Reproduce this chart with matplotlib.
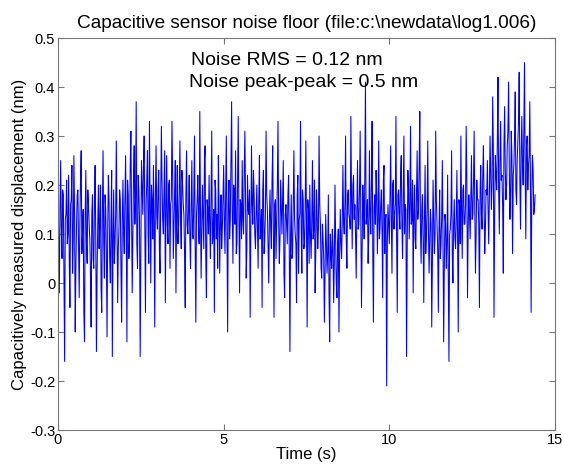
import numpy as np
import matplotlib.pyplot as plt

plt.rcParams['font.family'] = ['Liberation Sans', 'DejaVu Sans']

# displacement readings (nm) at t = 0, 0.04, 0.08, ... s
disp_0 = [0.20, -0.02, 0.25, 0.05, 0.18, -0.16, 0.14, 0.08, 0.22, -0.05, 0.17, 0.02, 0.26,
          -0.10, 0.12, 0.19, -0.03, 0.21, 0.06, 0.15, -0.12, 0.23, 0.04, 0.16, 0.09]
disp_1 = [-0.09, 0.18, 0.03, 0.24, -0.14, 0.12, 0.07, 0.20, -0.06, 0.27, 0.01, 0.15, -0.11,
          0.22, 0.05, 0.13, -0.15, 0.19, 0.08, 0.29, -0.04, 0.11, 0.17, -0.08, 0.21]
disp_2 = [0.06, 0.26, -0.12, 0.18, 0.09, 0.31, -0.02, 0.22, 0.12, 0.37, 0.03, 0.19, -0.15,
          0.25, 0.14, 0.30, -0.06, 0.21, 0.10, 0.33, 0.00, 0.17, 0.24, -0.09, 0.28]
disp_3 = [0.11, 0.23, 0.02, 0.32, 0.13, 0.19, -0.04, 0.26, 0.08, 0.21, 0.16, 0.33, 0.05,
          0.18, -0.02, 0.24, 0.12, 0.29, 0.07, 0.20, 0.14, -0.05, 0.27, 0.10, 0.22]
disp_4 = [0.03, 0.25, 0.09, 0.30, -0.08, 0.17, 0.12, 0.35, 0.01, 0.20, 0.07, 0.28, -0.03,
          0.15, 0.22, 0.05, 0.31, 0.10, -0.06, 0.19, 0.14, 0.26, 0.02, 0.18, 0.11]
disp_5 = [0.24, 0.06, 0.30, -0.10, 0.21, 0.13, 0.37, 0.04, 0.19, 0.27, 0.08, 0.34, -0.02,
          0.16, 0.25, 0.10, 0.31, 0.01, 0.22, 0.14, -0.07, 0.28, 0.12, 0.18, 0.07]
disp_6 = [0.20, 0.03, 0.26, 0.11, -0.05, 0.23, 0.09, 0.31, 0.15, 0.00, 0.19, 0.07, 0.28,
          -0.07, 0.17, 0.12, 0.33, 0.04, 0.21, 0.10, 0.25, -0.03, 0.16, 0.08, 0.22]
disp_7 = [-0.14, 0.18, 0.06, 0.27, 0.10, -0.04, 0.22, 0.13, 0.33, 0.02, 0.17, 0.08, 0.29,
          -0.09, 0.15, 0.20, 0.05, 0.25, 0.11, -0.02, 0.19, 0.07, 0.30, 0.12, 0.01]
disp_8 = [0.09, -0.08, 0.14, 0.02, 0.18, -0.12, 0.06, 0.11, -0.04, 0.20, 0.00, 0.08, -0.10,
          0.15, 0.05, 0.24, 0.10, 0.30, 0.03, 0.19, 0.13, 0.34, 0.07, 0.22, 0.16]
disp_9 = [0.01, 0.25, 0.12, 0.31, -0.05, 0.20, 0.09, 0.41, 0.14, 0.04, 0.27, 0.10, 0.33,
          -0.08, 0.18, 0.23, 0.06, 0.29, 0.11, 0.19, -0.03, 0.24, 0.13, -0.21, 0.16]
disp_10 = [0.08, 0.28, 0.02, 0.21, 0.14, 0.34, -0.06, 0.19, 0.11, 0.26, 0.05, 0.30, 0.16,
           -0.15, 0.23, 0.09, 0.32, 0.13, -0.02, 0.20, 0.07, 0.27, 0.15, 0.35, 0.04]
disp_11 = [0.18, -0.04, 0.24, 0.10, 0.29, 0.02, 0.15, -0.09, 0.21, 0.06, 0.31, 0.12, -0.06,
           0.19, 0.08, 0.25, -0.12, 0.14, 0.03, 0.22, -0.16, 0.11, 0.27, 0.00, 0.17]
disp_12 = [0.07, 0.23, -0.10, 0.16, 0.30, 0.05, 0.20, 0.12, 0.32, -0.03, 0.18, 0.09, 0.26,
           0.14, 0.31, 0.02, 0.21, 0.17, -0.05, 0.24, 0.11, 0.28, 0.06, 0.19, 0.25]
disp_13 = [0.08, 0.30, 0.15, 0.38, -0.07, 0.26, 0.19, 0.42, 0.10, 0.33, 0.22, 0.02, 0.36,
           0.17, 0.28, 0.41, 0.13, 0.31, 0.06, 0.24, 0.39, 0.16, 0.29, 0.43, 0.11]
disp_14 = [0.34, 0.20, 0.45, 0.09, 0.30, 0.24, 0.37, -0.06, 0.26, 0.14, 0.18]

# readings in between, at t = 0.02, 0.06, 0.10, ... s
mid_0 = [0.08, 0.15, 0.11, 0.19, 0.01, 0.13, 0.21, 0.10, 0.04, 0.16, 0.24, 0.09, 0.14,
         0.03, 0.18, 0.07, 0.12, 0.27, 0.10, -0.06, 0.14, 0.08, 0.19, 0.12, 0.02]
mid_1 = [0.14, 0.05, 0.16, 0.09, 0.02, 0.20, 0.12, -0.01, 0.15, 0.08, 0.18, 0.06, 0.11,
         0.17, 0.00, 0.23, 0.09, 0.04, 0.14, 0.12, 0.07, 0.19, 0.03, 0.13, 0.10]
mid_2 = [0.17, 0.12, 0.21, 0.05, 0.24, 0.14, 0.10, 0.28, 0.17, 0.08, 0.22, 0.13, 0.06,
         0.19, 0.24, 0.11, 0.16, 0.27, 0.04, 0.15, 0.20, 0.09, 0.13, 0.18, 0.14]
mid_3 = [0.19, 0.07, 0.16, 0.21, 0.10, 0.27, 0.14, 0.12, 0.20, 0.03, 0.17, 0.22, 0.11,
         0.25, 0.15, 0.08, 0.19, 0.13, 0.23, 0.16, 0.06, 0.18, 0.12, 0.15, 0.09]
mid_4 = [0.16, 0.10, 0.18, 0.07, 0.14, 0.22, 0.08, 0.15, 0.11, 0.13, 0.25, 0.05, 0.17,
         0.10, 0.12, 0.19, 0.08, 0.15, 0.21, 0.09, 0.03, 0.16, 0.12, 0.07, 0.17]
mid_5 = [0.13, 0.18, 0.11, 0.16, 0.09, 0.25, 0.15, 0.20, 0.12, 0.06, 0.21, 0.14, 0.17,
         0.09, 0.13, 0.22, 0.18, 0.07, 0.15, 0.19, 0.12, 0.16, 0.23, 0.10, 0.14]
mid_6 = [0.12, 0.17, 0.09, 0.15, 0.19, 0.06, 0.14, 0.18, 0.08, 0.13, 0.11, 0.21, 0.10,
         0.16, 0.05, 0.20, 0.13, 0.09, 0.15, 0.17, 0.02, 0.14, 0.12, 0.18, 0.07]
mid_7 = [0.10, 0.05, 0.16, 0.13, 0.08, 0.18, 0.02, 0.14, 0.11, 0.19, 0.07, 0.15, 0.12,
         0.17, 0.04, 0.10, 0.13, 0.09, 0.21, 0.06, 0.14, 0.11, 0.16, 0.03, 0.12]
mid_8 = [0.05, 0.02, 0.08, 0.06, -0.02, 0.10, 0.03, 0.07, 0.04, 0.09, -0.03, 0.11, 0.06,
         0.08, 0.13, 0.12, 0.16, 0.09, 0.18, 0.14, 0.11, 0.17, 0.20, 0.13, 0.10]
mid_9 = [0.15, 0.11, 0.19, 0.14, 0.08, 0.16, 0.22, 0.12, 0.17, 0.10, 0.14, 0.20, 0.07,
         0.15, 0.12, 0.18, 0.13, 0.09, 0.16, 0.11, 0.21, 0.06, 0.14, 0.08, 0.12]
mid_10 = [0.17, 0.13, 0.20, 0.11, 0.16, 0.09, 0.18, 0.14, 0.22, 0.12, 0.17, 0.10, 0.15,
          0.07, 0.19, 0.16, 0.12, 0.21, 0.14, 0.09, 0.18, 0.13, 0.24, 0.11, 0.15]
mid_11 = [0.09, 0.13, 0.06, 0.15, 0.11, 0.08, 0.12, 0.04, 0.14, 0.10, 0.17, 0.07, 0.11,
          0.05, 0.13, 0.09, 0.03, 0.12, 0.08, 0.01, 0.10, 0.14, 0.06, 0.12, 0.09]
mid_12 = [0.13, 0.10, 0.17, 0.08, 0.15, 0.19, 0.12, 0.16, 0.21, 0.11, 0.14, 0.18, 0.13,
          0.20, 0.15, 0.10, 0.17, 0.12, 0.19, 0.14, 0.22, 0.16, 0.11, 0.18, 0.15]
mid_13 = [0.18, 0.23, 0.20, 0.27, 0.14, 0.22, 0.29, 0.19, 0.25, 0.21, 0.16, 0.28, 0.23,
          0.20, 0.31, 0.24, 0.18, 0.26, 0.22, 0.30, 0.19, 0.25, 0.33, 0.21, 0.27]
mid_14 = [0.24, 0.31, 0.22, 0.28, 0.19, 0.26, 0.21, 0.17, 0.23, 0.15]

disp = (disp_0 + disp_1 + disp_2 + disp_3 + disp_4 + disp_5 + disp_6 + disp_7
        + disp_8 + disp_9 + disp_10 + disp_11 + disp_12 + disp_13 + disp_14)
mid = (mid_0 + mid_1 + mid_2 + mid_3 + mid_4 + mid_5 + mid_6 + mid_7
       + mid_8 + mid_9 + mid_10 + mid_11 + mid_12 + mid_13 + mid_14)
dt = 0.04

t_a = np.arange(len(disp)) * dt
t_b = np.arange(len(mid)) * dt + dt / 2
t = np.concatenate([t_a, t_b])
y = np.concatenate([disp, mid])
order = np.argsort(t)
t, y = t[order], y[order]

rms_text = 'Noise RMS = 0.12 nm'
pp_text = 'Noise peak-peak = 0.5 nm'

fig = plt.figure(figsize=(5.62, 4.70), dpi=100)
ax = fig.add_axes([0.1032, 0.0851, 0.8843, 0.834])
ax.plot(t, y, color='#0000ff', lw=0.75)

ax.set_xlim(0, 15)
ax.set_ylim(-0.3, 0.5)
ax.set_xticks([0, 5, 10, 15])
ax.set_yticks(np.round(np.arange(-0.3, 0.51, 0.1), 1))
ax.set_yticklabels(['-0.3', '-0.2', '-0.1', '0', '0.1', '0.2', '0.3', '0.4', '0.5'])
ax.tick_params(direction='in', top=True, right=True, labelsize=10.5, length=4,
               color='#777777', pad=2)
for s in ax.spines.values():
    s.set_color('#777777')
    s.set_linewidth(0.8)

ax.set_title('Capacitive sensor noise floor (file:c:\\newdata\\log1.006)', fontsize=13.7, pad=7)
ax.set_xlabel('Time (s)', fontsize=12, labelpad=0)
ax.set_ylabel('Capacitively measured displacement (nm)', fontsize=12, labelpad=2)

ax.text(4.0, 0.455, rms_text, fontsize=14, va='center')
ax.text(3.95, 0.41, pp_text, fontsize=14, va='center')

fig.savefig('out.png', dpi=100)
